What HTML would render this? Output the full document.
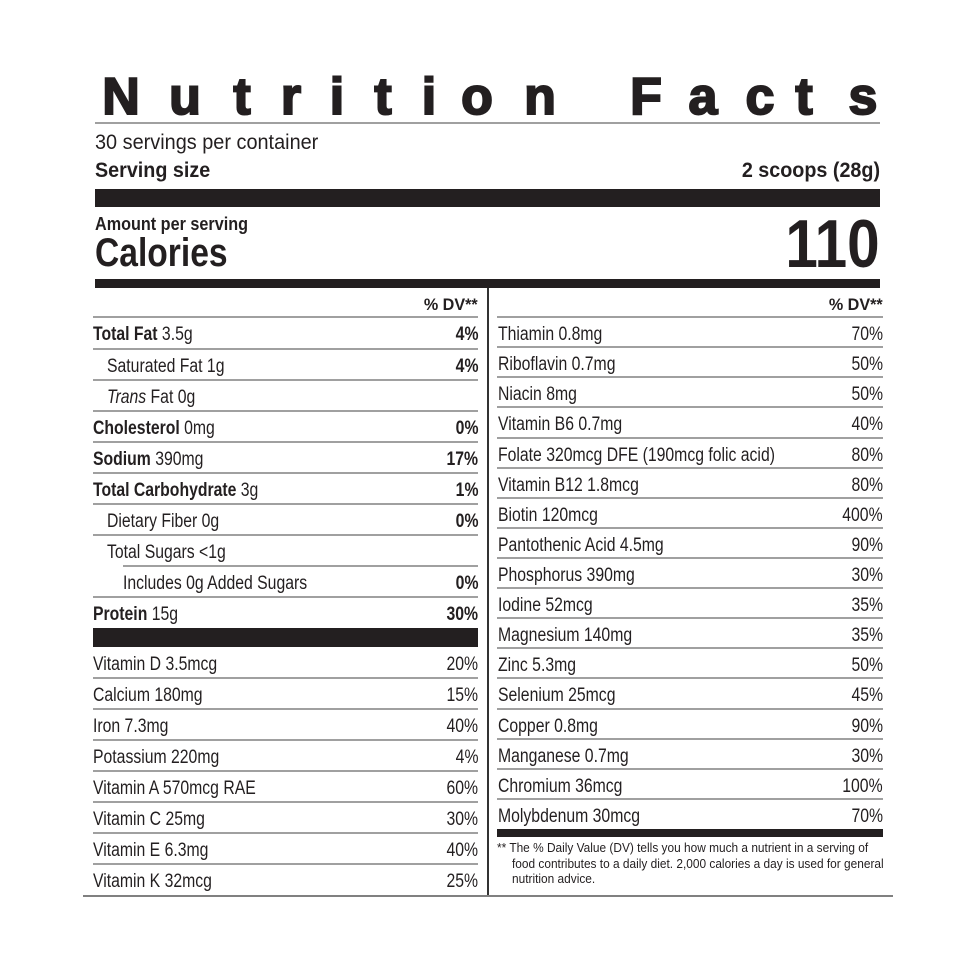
<!DOCTYPE html>
<html><head><meta charset="utf-8">
<style>
html,body{margin:0;padding:0;background:#fff;}
body{width:967px;height:968px;position:relative;overflow:hidden;font-family:"Liberation Sans",Arial,sans-serif;color:#231f20;}
.a{position:absolute;white-space:nowrap;}
.t{position:absolute;top:71px;font-size:52px;line-height:52px;font-weight:bold;transform:translateX(-50%);-webkit-text-stroke:2px #231f20;white-space:nowrap;}
.hl{position:absolute;height:2px;background:#a0a0a0;}
.bar{position:absolute;background:#231f20;}
.row{position:absolute;height:30px;}
.row .n{position:absolute;left:0;top:8px;font-size:19px;line-height:19px;transform:scaleX(.83);transform-origin:0 0;white-space:nowrap;}
.row .v{position:absolute;right:0;top:8px;font-size:19px;line-height:19px;transform:scaleX(.83);transform-origin:100% 0;white-space:nowrap;}
.L{left:93px;width:385px;}
.R{left:497px;width:386px;}
.R .n{left:1px;}
.i1{left:14px !important;}
.i2{left:30px !important;}
.fn{position:absolute;font-size:12.5px;line-height:12.5px;transform:scaleX(.95);transform-origin:0 0;white-space:nowrap;}
</style></head><body>

<!-- Title -->
<span class="t" style="left:121px">N</span>
<span class="t" style="left:185px">u</span>
<span class="t" style="left:242px">t</span>
<span class="t" style="left:291px">r</span>
<span class="t" style="left:337px">i</span>
<span class="t" style="left:383px">t</span>
<span class="t" style="left:429px">i</span>
<span class="t" style="left:477px">o</span>
<span class="t" style="left:540px">n</span>
<span class="t" style="left:646px">F</span>
<span class="t" style="left:703px">a</span>
<span class="t" style="left:760px">c</span>
<span class="t" style="left:804px">t</span>
<span class="t" style="left:863px">s</span>

<div class="hl" style="left:95px;top:122px;width:785px;"></div>

<div class="a" style="left:95px;top:132px;font-size:21.5px;line-height:21.5px;transform:scaleX(.925);transform-origin:0 0;">30 servings per container</div>
<div class="a" style="left:95px;top:160px;font-size:21px;line-height:21px;font-weight:bold;transform:scaleX(.94);transform-origin:0 0;">Serving size</div>
<div class="a" style="right:87px;top:160px;font-size:21px;line-height:21px;font-weight:bold;transform:scaleX(.94);transform-origin:100% 0;">2 scoops (28g)</div>

<div class="bar" style="left:95px;top:189px;width:785px;height:18px;"></div>

<div class="a" style="left:95px;top:215px;font-size:18px;line-height:18px;font-weight:bold;transform:scaleX(.9);transform-origin:0 0;">Amount per serving</div>
<div class="a" style="left:95px;top:233px;font-size:40px;line-height:40px;font-weight:bold;transform:scaleX(.84);transform-origin:0 0;">Calories</div>
<div class="a" style="right:87px;top:210px;font-size:68px;line-height:68px;font-weight:bold;transform:scaleX(.86);transform-origin:100% 0;">110</div>

<div class="bar" style="left:95px;top:279px;width:785px;height:9px;"></div>

<!-- divider -->
<div class="bar" style="left:487px;top:288px;width:2px;height:609px;background:#333;"></div>

<!-- %DV headers -->
<div class="a" style="right:489px;top:296px;font-size:17px;line-height:17px;font-weight:bold;transform:scaleX(.95);transform-origin:100% 0;">% DV**</div>
<div class="a" style="right:84px;top:296px;font-size:17px;line-height:17px;font-weight:bold;transform:scaleX(.95);transform-origin:100% 0;">% DV**</div>

<!-- Left lines -->
<div class="hl" style="left:93px;top:316px;width:385px;"></div>
<div class="hl" style="left:93px;top:348px;width:385px;"></div>
<div class="hl" style="left:93px;top:379px;width:385px;"></div>
<div class="hl" style="left:93px;top:410px;width:385px;"></div>
<div class="hl" style="left:93px;top:441px;width:385px;"></div>
<div class="hl" style="left:93px;top:472px;width:385px;"></div>
<div class="hl" style="left:93px;top:503px;width:385px;"></div>
<div class="hl" style="left:93px;top:534px;width:385px;"></div>
<div class="hl" style="left:123px;top:565px;width:355px;"></div>
<div class="hl" style="left:93px;top:596px;width:385px;"></div>
<div class="bar" style="left:93px;top:628px;width:385px;height:19px;"></div>
<div class="hl" style="left:93px;top:677px;width:385px;"></div>
<div class="hl" style="left:93px;top:708px;width:385px;"></div>
<div class="hl" style="left:93px;top:739px;width:385px;"></div>
<div class="hl" style="left:93px;top:770px;width:385px;"></div>
<div class="hl" style="left:93px;top:801px;width:385px;"></div>
<div class="hl" style="left:93px;top:832px;width:385px;"></div>
<div class="hl" style="left:93px;top:863px;width:385px;"></div>
<div class="hl" style="left:83px;top:895px;width:810px;background:#808080;"></div>

<!-- Left rows -->
<div class="row L" style="top:317px"><span class="n"><b>Total Fat</b> 3.5g</span><span class="v"><b>4%</b></span></div>
<div class="row L" style="top:349px"><span class="n i1">Saturated Fat 1g</span><span class="v"><b>4%</b></span></div>
<div class="row L" style="top:380px"><span class="n i1"><i>Trans</i> Fat 0g</span></div>
<div class="row L" style="top:411px"><span class="n"><b>Cholesterol</b> 0mg</span><span class="v"><b>0%</b></span></div>
<div class="row L" style="top:442px"><span class="n"><b>Sodium</b> 390mg</span><span class="v"><b>17%</b></span></div>
<div class="row L" style="top:473px"><span class="n"><b>Total Carbohydrate</b> 3g</span><span class="v"><b>1%</b></span></div>
<div class="row L" style="top:504px"><span class="n i1">Dietary Fiber 0g</span><span class="v"><b>0%</b></span></div>
<div class="row L" style="top:535px"><span class="n i1">Total Sugars &lt;1g</span></div>
<div class="row L" style="top:566px"><span class="n i2">Includes 0g Added Sugars</span><span class="v"><b>0%</b></span></div>
<div class="row L" style="top:597px"><span class="n"><b>Protein</b> 15g</span><span class="v"><b>30%</b></span></div>

<div class="row L" style="top:647px"><span class="n">Vitamin D 3.5mcg</span><span class="v">20%</span></div>
<div class="row L" style="top:678px"><span class="n">Calcium 180mg</span><span class="v">15%</span></div>
<div class="row L" style="top:709px"><span class="n">Iron 7.3mg</span><span class="v">40%</span></div>
<div class="row L" style="top:740px"><span class="n">Potassium 220mg</span><span class="v">4%</span></div>
<div class="row L" style="top:771px"><span class="n">Vitamin A 570mcg RAE</span><span class="v">60%</span></div>
<div class="row L" style="top:802px"><span class="n">Vitamin C 25mg</span><span class="v">30%</span></div>
<div class="row L" style="top:833px"><span class="n">Vitamin E 6.3mg</span><span class="v">40%</span></div>
<div class="row L" style="top:864px"><span class="n">Vitamin K 32mcg</span><span class="v">25%</span></div>

<!-- Right lines -->
<div class="hl" style="left:497px;top:316px;width:386px;"></div>
<div class="hl" style="left:497px;top:346px;width:386px;"></div>
<div class="hl" style="left:497px;top:376px;width:386px;"></div>
<div class="hl" style="left:497px;top:406px;width:386px;"></div>
<div class="hl" style="left:497px;top:437px;width:386px;"></div>
<div class="hl" style="left:497px;top:467px;width:386px;"></div>
<div class="hl" style="left:497px;top:497px;width:386px;"></div>
<div class="hl" style="left:497px;top:527px;width:386px;"></div>
<div class="hl" style="left:497px;top:557px;width:386px;"></div>
<div class="hl" style="left:497px;top:587px;width:386px;"></div>
<div class="hl" style="left:497px;top:617px;width:386px;"></div>
<div class="hl" style="left:497px;top:647px;width:386px;"></div>
<div class="hl" style="left:497px;top:677px;width:386px;"></div>
<div class="hl" style="left:497px;top:708px;width:386px;"></div>
<div class="hl" style="left:497px;top:738px;width:386px;"></div>
<div class="hl" style="left:497px;top:768px;width:386px;"></div>
<div class="hl" style="left:497px;top:798px;width:386px;"></div>
<div class="bar" style="left:497px;top:829px;width:386px;height:8px;"></div>

<!-- Right rows -->
<div class="row R" style="top:317px"><span class="n">Thiamin 0.8mg</span><span class="v">70%</span></div>
<div class="row R" style="top:347px"><span class="n">Riboflavin 0.7mg</span><span class="v">50%</span></div>
<div class="row R" style="top:377px"><span class="n">Niacin 8mg</span><span class="v">50%</span></div>
<div class="row R" style="top:407px"><span class="n">Vitamin B6 0.7mg</span><span class="v">40%</span></div>
<div class="row R" style="top:438px"><span class="n">Folate 320mcg DFE (190mcg folic acid)</span><span class="v">80%</span></div>
<div class="row R" style="top:468px"><span class="n">Vitamin B12 1.8mcg</span><span class="v">80%</span></div>
<div class="row R" style="top:498px"><span class="n">Biotin 120mcg</span><span class="v">400%</span></div>
<div class="row R" style="top:528px"><span class="n">Pantothenic Acid 4.5mg</span><span class="v">90%</span></div>
<div class="row R" style="top:558px"><span class="n">Phosphorus 390mg</span><span class="v">30%</span></div>
<div class="row R" style="top:588px"><span class="n">Iodine 52mcg</span><span class="v">35%</span></div>
<div class="row R" style="top:618px"><span class="n">Magnesium 140mg</span><span class="v">35%</span></div>
<div class="row R" style="top:648px"><span class="n">Zinc 5.3mg</span><span class="v">50%</span></div>
<div class="row R" style="top:678px"><span class="n">Selenium 25mcg</span><span class="v">45%</span></div>
<div class="row R" style="top:709px"><span class="n">Copper 0.8mg</span><span class="v">90%</span></div>
<div class="row R" style="top:739px"><span class="n">Manganese 0.7mg</span><span class="v">30%</span></div>
<div class="row R" style="top:769px"><span class="n">Chromium 36mcg</span><span class="v">100%</span></div>
<div class="row R" style="top:799px"><span class="n">Molybdenum 30mcg</span><span class="v">70%</span></div>

<!-- Footnote -->
<div class="fn" style="left:497px;top:842px;">** The % Daily Value (DV) tells you how much a nutrient in a serving of</div>
<div class="fn" style="left:512px;top:858px;">food contributes to a daily diet. 2,000 calories a day is used for general</div>
<div class="fn" style="left:512px;top:873px;">nutrition advice.</div>

</body></html>
